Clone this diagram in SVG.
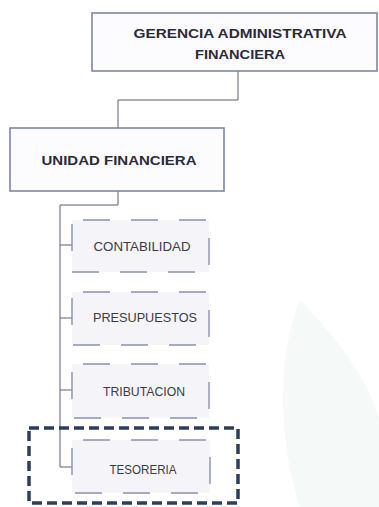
<svg xmlns="http://www.w3.org/2000/svg" width="379" height="507" viewBox="0 0 379 507">
<style>
.main{fill:#fcfcfe;stroke:#7e86a6;stroke-width:1.6}
.child{fill:#f5f5f9;stroke:#8a90b0;stroke-width:1.4;stroke-dasharray:27 21;stroke-dashoffset:37}
.conn{fill:none;stroke:#5a6078;stroke-width:1}
.hl{fill:none;stroke:#2c3e60;stroke-width:3.5;stroke-dasharray:10 5}
.tb{font-family:"Liberation Sans",Arial,sans-serif;font-weight:bold;fill:#2a2a38;text-anchor:middle}
.tc{font-family:"Liberation Sans",Arial,sans-serif;fill:#3a3a48;text-anchor:middle;font-size:13px}
</style>
<rect width="379" height="507" fill="#ffffff"/>
<path d="M300,300 C330,330 370,380 379,420 L379,507 L300,507 C280,450 275,360 300,300 Z" fill="#f5f9f7"/>
<g id="connectors">
<path class="conn" d="M238,71 V100 H118 V128"/>
<path class="conn" d="M118,191 V205 H60 V467"/>
<path class="conn" d="M60,245 H72"/>
<path class="conn" d="M60,318 H72"/>
<path class="conn" d="M60,390 H72"/>
<path class="conn" d="M60,467 H72"/>
</g>
<g id="gerencia">
<rect class="main" x="92" y="13" width="285" height="58"/>
<text class="tb" x="240" y="38" font-size="13" textLength="213" lengthAdjust="spacingAndGlyphs">GERENCIA ADMINISTRATIVA</text>
<text class="tb" x="240" y="59" font-size="13" textLength="90" lengthAdjust="spacingAndGlyphs">FINANCIERA</text>
</g>
<g id="unidad">
<rect class="main" x="10" y="128" width="214" height="63"/>
<text class="tb" x="119" y="165" font-size="13" textLength="155" lengthAdjust="spacingAndGlyphs">UNIDAD FINANCIERA</text>
</g>
<g id="contabilidad">
<rect class="child" x="72" y="220" width="137" height="52"/>
<text class="tc" x="142" y="251" textLength="97" lengthAdjust="spacingAndGlyphs">CONTABILIDAD</text>
</g>
<g id="presupuestos">
<rect class="child" x="72" y="292" width="137" height="53"/>
<text class="tc" x="145" y="322" textLength="104" lengthAdjust="spacingAndGlyphs">PRESUPUESTOS</text>
</g>
<g id="tributacion">
<rect class="child" x="72" y="364" width="137" height="54"/>
<text class="tc" x="144" y="396" textLength="82" lengthAdjust="spacingAndGlyphs">TRIBUTACION</text>
</g>
<g id="tesoreria">
<rect class="child" x="72" y="440" width="138" height="53"/>
<text class="tc" x="143" y="474" textLength="67" lengthAdjust="spacingAndGlyphs">TESORERIA</text>
</g>
<g id="highlight">
<rect class="hl" x="29" y="428" width="209" height="75"/>
</g>
</svg>
